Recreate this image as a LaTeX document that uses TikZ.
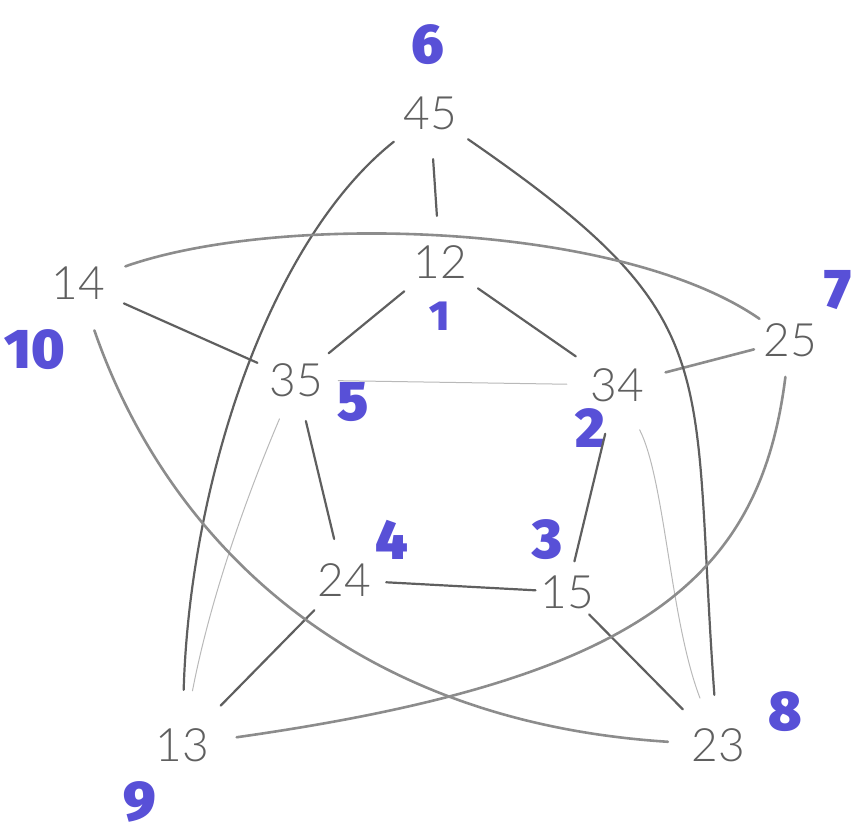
\documentclass[tikz,border=0pt]{standalone}
\usepackage{fontspec}
\newfontfamily\penfont{Lato Light}
\newfontfamily\markfont{Fira Sans Black}
\definecolor{pencil}{RGB}{95,95,95}
\definecolor{pencilB}{RGB}{140,140,140}
\definecolor{pencilC}{RGB}{185,185,185}
\definecolor{marker}{RGB}{88,80,215}
\begin{document}
\begin{tikzpicture}[x=1pt,y=-1pt,
  vtx/.style={circle,inner sep=0pt,minimum size=#1,text=pencil,font=\penfont\fontsize{46}{50}\selectfont},
  vtx/.default=92pt,
  lbl/.style={text=marker,font=\markfont\fontsize{56}{58}\selectfont,inner sep=0pt},
  edgeA/.style={draw=pencil,line width=2.2pt,line cap=round},
  edgeB/.style={draw=pencilB,line width=2.6pt,line cap=round},
  edgeC/.style={draw=pencilC,line width=1pt,line cap=round}]
\useasboundingbox (0,0) rectangle (858,839);
% vertices
\node[vtx] (45) at (430,113) {45};
\node[vtx] (12) at (440,262) {12};
\node[vtx=100pt] (14) at (78,283) {14};
\node[vtx=74pt] (25) at (790,340) {25};
\node[vtx=84pt] (35) at (296,380) {35};
\node[vtx=100pt] (34) at (617,385) {34};
\node[vtx=84pt] (24) at (344,580) {24};
\node[vtx=60pt] (15) at (567,592) {15};
\node[vtx=110pt] (13) at (182,745) {13};
\node[vtx=100pt] (23) at (718,745) {23};
% marker numbers
\node[lbl] (m6) at (428,45) {6};
\node[lbl,font=\markfont\fontsize{42}{44}\selectfont] (m1) at (440,316) {1};
\node[lbl] (m7) at (838,290) {7};
\node[lbl] (m10) at (35,350) {10};
\node[lbl] (m5) at (353,402) {5};
\node[lbl] (m2) at (590,428) {2};
\node[lbl] (m4) at (392,540) {4};
\node[lbl] (m3) at (547,540) {3};
\node[lbl] (m8) at (785,712) {8};
\node[lbl] (m9) at (140,802) {9};
% straight edges
\draw[edgeA] (45) -- (12);
\draw[edgeA] (12) -- (35);
\draw[edgeA] (12) -- (34);
\draw[edgeA] (14) -- (35);
\draw[edgeB] (34) -- (25);
\draw[edgeA] (34) -- (15);
\draw[edgeA] (35) -- (24);
\draw[edgeA] (24) -- (15);
\draw[edgeA] (24) -- (13);
\draw[edgeA] (15) -- (23);
% faint edges
\draw[edgeC] (35) -- (34);
\draw[edgeC] (35) .. controls (245,500) and (210,600) .. (13);
\draw[edgeC] (34) .. controls (665,480) and (670,620) .. (23);
% curved edges
\draw[edgeA] (45) .. controls (270,240) and (190,480) .. (13);
\draw[edgeA] (45) .. controls (730,320) and (690,360) .. (23);
\draw[edgeB] (14) .. controls (280,212) and (620,222) .. (25);
\draw[edgeB] (14) .. controls (160,520) and (330,720) .. (23);
\draw[edgeB] (25) .. controls (760,580) and (640,680) .. (13);
\end{tikzpicture}
\end{document}
